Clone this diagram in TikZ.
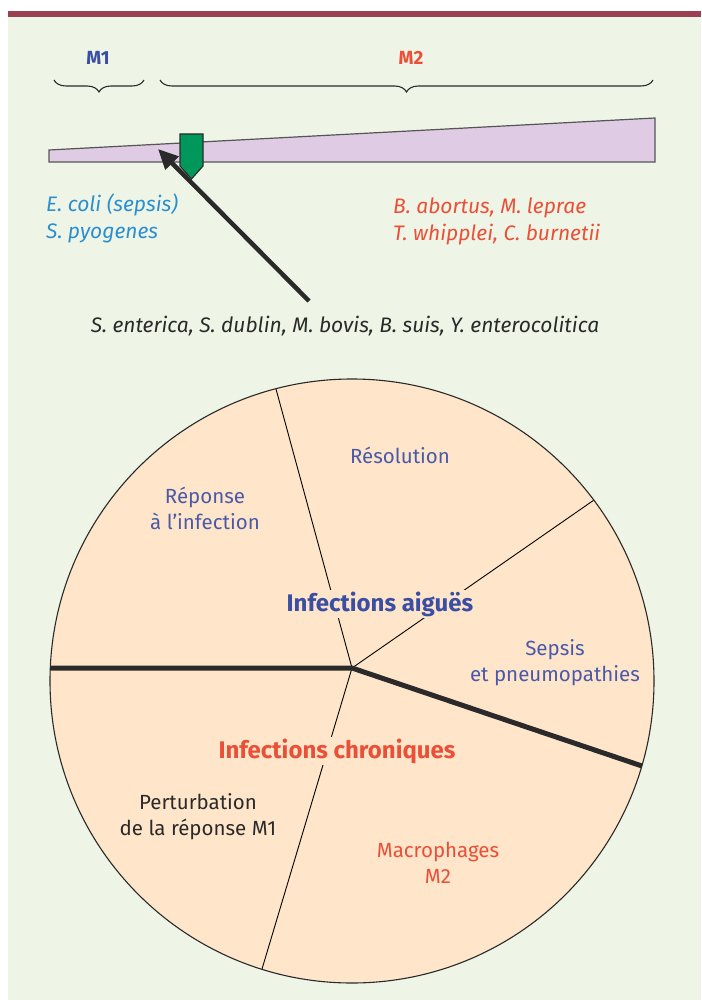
\documentclass[tikz,border=0pt]{standalone}
\usepackage{fontspec}
\setmainfont{Fira Sans}
\usetikzlibrary{arrows.meta,decorations.pathreplacing}
\definecolor{bggreen}{HTML}{EEF5E6}
\definecolor{barred}{HTML}{9B4050}
\definecolor{peach}{HTML}{FFE5C9}
\definecolor{lav}{HTML}{DFCBE3}
\definecolor{mgreen}{HTML}{00985A}
\definecolor{tblue}{HTML}{4A5AA8}
\definecolor{bblue}{HTML}{3A4EA4}
\definecolor{tred}{HTML}{EA5038}
\definecolor{tcyan}{HTML}{2B8FCF}
\definecolor{tdark}{HTML}{2A2A2A}
\tikzset{
  lbl/.style={inner sep=1pt,align=center,font=\fontsize{20.5}{26}\selectfont},
  ital/.style={inner sep=1pt,align=left,font=\fontsize{21}{27}\selectfont\itshape},
  big/.style={inner sep=2pt,fill=peach,font=\fontsize{24}{26}\selectfont\bfseries},
  thinline/.style={draw=black,line width=0.9pt},
  thickline/.style={draw=tdark,line width=5pt},
  bracest/.style={decorate,decoration={brace,amplitude=12pt},draw=tdark,line width=1.1pt},
}
\begin{document}
\begin{tikzpicture}[x=1pt,y=-1pt]
\useasboundingbox (0,0) rectangle (701,1000);
\fill[white] (0,0) rectangle (701,1000);
\fill[bggreen] (8,17) rectangle (701,1000);
\fill[barred] (8,11) rectangle (701,17);
% top scale
\node[font=\fontsize{19}{22}\selectfont\bfseries,text=bblue] (m1) at (98,58) {M1};
\node[font=\fontsize{19}{22}\selectfont\bfseries,text=tred] (m2) at (411,58) {M2};
\draw[bracest] (144,80) -- (54,80);
\draw[bracest] (653,80) -- (160,80);
\draw[fill=lav,draw=tdark!80,line width=1.2pt] (49,150) -- (655,118) -- (655,162) -- (49,162) -- cycle;
\draw[fill=mgreen,draw=tdark,line width=1.1pt] (180,134) -- (203,134) -- (203,166) -- (191.5,179) -- (180,166) -- cycle;
\node[ital,text=tcyan,anchor=west] (ecoli) at (45,218) {E. coli (sepsis)\\S. pyogenes};
\node[ital,text=tred,anchor=west] (babort) at (392,221) {B. abortus, M. leprae\\T. whipplei, C. burnetii};
\node[ital,text=tdark] (sent) at (345,326) {S. enterica, S. dublin, M. bovis, B. suis, Y. enterocolitica};
\coordinate (atail) at (309,301);
\coordinate (atip) at (158,149);
\draw[draw=tdark,line width=4.5pt,-{Triangle[length=20pt,width=18pt]}] (atail) -- (atip);
% circle
\coordinate (c) at (352,681);
\coordinate (hub) at (352,668);
\fill[peach] (c) circle[radius=302];
\coordinate (ptop) at (276,389);
\coordinate (pur) at (594,500);
\coordinate (pbot) at (262,969);
\coordinate (pleft) at (50.3,668);
\coordinate (pright) at (642,766);
\draw[thinline] (hub) -- (ptop);
\draw[thinline] (hub) -- (pur);
\draw[thinline] (hub) -- (pbot);
\draw[thickline] (pleft) -- (hub) -- (pright);
\draw[draw=tdark,line width=1.1pt] (c) circle[radius=302];
\node[lbl,text=tblue] (res) at (400,455) {Résolution};
\node[lbl,text=tblue] (rep) at (205,508) {Réponse\\à l’infection};
\node[big,text=bblue] (aig) at (380,604) {Infections aiguës};
\node[lbl,text=tblue] (sep) at (555,663) {Sepsis\\et pneumopathies};
\node[big,text=tred] (chr) at (337,751) {Infections chroniques};
\node[lbl,text=tdark] (pert) at (198,817) {Perturbation\\de la réponse M1};
\node[lbl,text=tred] (mac) at (438,863) {Macrophages\\M2};
\end{tikzpicture}
\end{document}
